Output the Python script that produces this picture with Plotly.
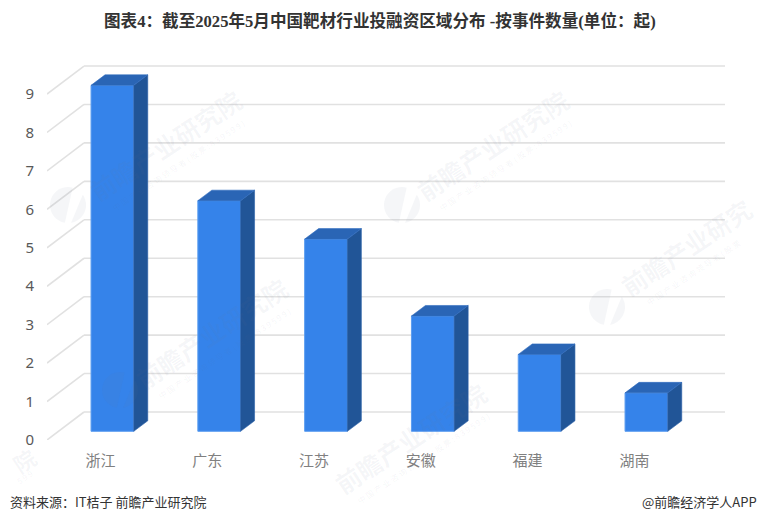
import math
import plotly.graph_objects as go

categories = ["浙江", "广东", "江苏", "安徽", "福建", "湖南"]
values = [9, 6, 5, 3, 2, 1]
y_ticks = [0, 1, 2, 3, 4, 5, 6, 7, 8, 9]

W, H = 760, 524
L, R, T, B = 47, 35, 50, 84
BAND, UNIT = 106.8, 38.44
x_rng = [-0.5, -0.5 + (W - L - R) / BAND]
y_rng = [0, (H - T - B) / UNIT]

# depth of the pseudo-3D scene, in axis units
wall_dx, wall_dy = 37 / BAND, 28 / UNIT
bf_dx, bf_dy = 12 / BAND, 8.7 / UNIT
bb_dx, bb_dy = 26 / BAND, 19.2 / UNIT
half = 0.2

fig = go.Figure()
shapes, annots = [], []

# grid: diagonals on the side plane plus lines along the back wall (below the bars)
GRID = dict(color="#e1e1e1", width=1.6)
for v in y_ticks:
    shapes.append(dict(type="line", xref="x", yref="y", layer="below", line=GRID,
                       x0=x_rng[0], y0=v, x1=x_rng[0] + wall_dx, y1=v + wall_dy))
    shapes.append(dict(type="line", xref="x", yref="y", layer="below", line=GRID,
                       x0=x_rng[0] + wall_dx, y0=v + wall_dy, x1=x_rng[1], y1=v + wall_dy))

# side and top faces
for i, v in enumerate(values):
    xl, xr = i + bf_dx - half, i + bf_dx + half
    d_x, d_y = bb_dx - bf_dx, bb_dy - bf_dy
    fig.add_trace(go.Scatter(
        x=[xr, xr + d_x, xr + d_x, xr, xr],
        y=[bf_dy, bf_dy + d_y, v + bf_dy + d_y, v + bf_dy, bf_dy],
        mode="lines", fill="toself", fillcolor="#215597", line=dict(color="#2a5fa8", width=0.6),
        hoverinfo="skip", showlegend=False, cliponaxis=False))
    fig.add_trace(go.Scatter(
        x=[xl, xr, xr + d_x, xl + d_x, xl],
        y=[v + bf_dy, v + bf_dy, v + bf_dy + d_y, v + bf_dy + d_y, v + bf_dy],
        mode="lines", fill="toself", fillcolor="#2a65b5", line=dict(color="#2f6cc0", width=0.6),
        hoverinfo="skip", showlegend=False, cliponaxis=False))

# front faces
fig.add_trace(go.Bar(x=[i + bf_dx for i in range(len(values))], y=values, base=bf_dy, width=2 * half,
                     marker=dict(color="#3583ea", line=dict(color="#5c9df0", width=1)),
                     hoverinfo="skip", showlegend=False, cliponaxis=False))

def px(x):
    return (x - L) / (W - L - R)

def py(y):
    return (H - B - y) / (H - T - B)

WM = "rgba(105,115,150,0.065)"
WM2 = "rgba(105,115,150,0.08)"
ANG = -33.5
MAIN = "前瞻产业研究院"
SUB = "中 国 产 业 咨 询 领 导 者 ( 股 票 : 8 3 9 5 9 9 )"

def logo(cx, cy, r=18):
    for a0, a1 in ((-260, -75), (-35, 80)):
        pts = []
        for k in range(25):
            a = math.radians(a0 + (a1 - a0) * k / 24)
            pts.append((cx + r * math.cos(a), cy + r * math.sin(a)))
        path = "M " + " L ".join(f"{px(x):.4f},{py(y):.4f}" for x, y in pts) + " Z"
        shapes.append(dict(type="path", path=path, xref="paper", yref="paper", fillcolor=WM,
                           line=dict(width=0), layer="above"))

def wm_text(text, x, y, size, color):
    annots.append(dict(x=px(x), y=py(y), xref="paper", yref="paper", xanchor="center", yanchor="middle",
                       text=text, showarrow=False, textangle=ANG,
                       font=dict(family="Noto Sans CJK SC", size=size, color=color, weight="bold" if size > 12 else "normal")))

for lx, ly, tx, ty in ((68, 205, 165, 145), (402, 205, 492, 145), (120, 390, 211, 333)):
    logo(lx, ly)
    wm_text(MAIN, tx, ty, 25, WM)
    wm_text(SUB, tx + 13, ty + 20, 8, WM2)

# watermark running off the right edge: only what fits on the page
logo(607, 307)
wm_text(MAIN[:6], 686, 247, 25, WM)
wm_text(SUB[:23], 693, 272, 8, WM2)

# watermark at the bottom, logo hidden by the footer
wm_text(MAIN, 410, 438, 25, WM)
wm_text(SUB, 423, 458, 8, WM2)

# remains of a watermark at the left edge
wm_text(MAIN[-1], 24, 460, 22, WM)
wm_text("5 9 9", 24, 477, 8, WM2)

annots.append(dict(x=px(380), y=py(21), xref="paper", yref="paper", xanchor="center", yanchor="middle", showarrow=False,
                   text="<b>图表4：截至2025年5月中国靶材行业投融资区域分布 -按事件数量(单位：起)</b>",
                   font=dict(family="Liberation Serif, Noto Sans CJK SC", size=16.6, color="#333333")))
annots.append(dict(x=px(8), y=py(502), xref="paper", yref="paper", xanchor="left", yanchor="middle", showarrow=False,
                   text="资料来源：IT桔子 前瞻产业研究院",
                   font=dict(family="Noto Sans CJK SC", size=13, color="#333333")))
annots.append(dict(x=px(759), y=py(502), xref="paper", yref="paper", xanchor="right", yanchor="middle", showarrow=False,
                   text="@前瞻经济学人APP",
                   font=dict(family="Noto Sans CJK SC", size=13, color="#333333")))

fig.update_layout(
    width=W, height=H, autosize=False, margin=dict(l=L, r=R, t=T, b=B),
    paper_bgcolor="white", plot_bgcolor="rgba(0,0,0,0)", hovermode=False, showlegend=False,
    shapes=shapes, annotations=annots,
    xaxis=dict(range=x_rng, tickmode="array", tickvals=list(range(len(categories))), ticktext=categories,
               showgrid=False, zeroline=False, showline=False, ticks="outside", ticklen=7, tickcolor="rgba(0,0,0,0)",
               tickfont=dict(family="Noto Sans CJK SC", size=15, color="#808080")),
    yaxis=dict(range=y_rng, tickmode="array", tickvals=y_ticks, ticktext=[str(v) for v in y_ticks],
               showgrid=False, zeroline=False, showline=False, ticks="outside", ticklen=9, tickcolor="rgba(0,0,0,0)",
               tickfont=dict(family="Noto Sans, Open Sans", size=15, color="#595959")),
)
fig.write_html("out.html", config=dict(displayModeBar=False),
               post_script="document.body.style.margin='0';document.body.style.overflow='hidden';")
